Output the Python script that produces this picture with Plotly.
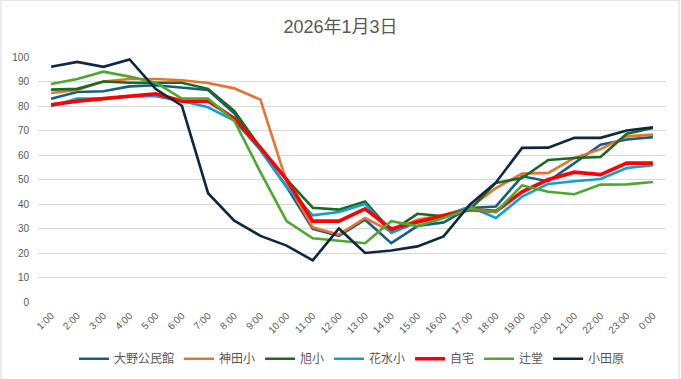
import plotly.graph_objects as go

hours = ["1:00", "2:00", "3:00", "4:00", "5:00", "6:00", "7:00", "8:00", "9:00", "10:00",
         "11:00", "12:00", "13:00", "14:00", "15:00", "16:00", "17:00", "18:00", "19:00",
         "20:00", "21:00", "22:00", "23:00", "0:00"]

oono = [83, 85.7, 86, 88, 88.5, 87.5, 86.5, 77, 62, 47, 29.8, 27, 33.6, 24, 31, 32.5,
        38.4, 39, 51.3, 49.3, 56.7, 64.2, 66.3, 67.3]
kanda = [85.3, 86.5, 90, 91, 91, 90.5, 89.4, 87.2, 82.6, 49, 30.5, 27.5, 34.3, 28.8, 33.6,
         35.6, 38.4, 46.5, 52.4, 52.7, 58.8, 62.4, 67.6, 68.3]
asahi = [86.7, 87, 90, 89.5, 89.5, 89.5, 87, 78, 63, 50, 38.5, 37.7, 41, 28.8, 36, 35,
         37.7, 48.6, 50.6, 58, 58.8, 59.2, 68.7, 71]
hanamizu = [79.9, 83, 83, 84, 84, 82, 79.5, 74, 62, 47, 35.4, 36.7, 40, 28.2, 32.5, 35,
            39, 34.3, 43, 48.2, 49.3, 50.2, 54.7, 55.8]
jitaku = [80.5, 82, 83, 84, 85, 82, 82, 75, 63, 50, 33, 33, 38, 29.8, 32.7, 35.2, 37.7,
          37, 45, 50, 53, 52, 56.7, 56.7]
tsujido = [89, 91, 94, 92, 89.5, 83, 83, 74, 53, 33, 26, 25, 24, 33, 31, 34.3, 38, 36.7,
           47.6, 45, 44, 47.9, 48, 49]
odawara = [96, 98, 96, 99, 86.9, 80.1, 44.4, 33.2, 27, 23, 17, 30, 20, 21, 22.7, 26.8,
           39.7, 48.8, 62.9, 63, 67, 67, 70, 71.3]

series_names = ["大野公民館", "神田小", "旭小", "花水小", "自宅", "辻堂", "小田原"]
series_values = [oono, kanda, asahi, hanamizu, jitaku, tsujido, odawara]
colors = ["#156082", "#E97132", "#196B24", "#0F9ED5", "#FF0000", "#4EA72E", "#0E2841"]
widths = [2.6, 2.6, 2.6, 2.6, 3.6, 2.6, 2.6]

y_ticks = [0, 10, 20, 30, 40, 50, 60, 70, 80, 90, 100]

W, H = 681, 379
ml, mr, mt, mb = 37.6, 14.6, 57.3, 76.7

fig = go.Figure()
for name, vals, c, w in zip(series_names, series_values, colors, widths):
    fig.add_trace(go.Scatter(x=hours, y=vals, mode="lines", name=name,
                             line=dict(color=c, width=w)))

font_family = "Liberation Sans, Arial, Noto Sans CJK JP, sans-serif"
pw = W - ml - mr
ph = H - mt - mb

fig.update_layout(
    width=W, height=H,
    margin=dict(l=ml, r=mr, t=mt, b=mb, pad=0, autoexpand=False),
    paper_bgcolor="white", plot_bgcolor="white",
    font=dict(family=font_family, color="#595959", size=10),
    title=dict(text="2026年1月3日", x=0.5, xanchor="center",
               y=1 - 27 / H, yref="container", yanchor="middle",
               font=dict(size=18, color="#595959", family=font_family)),
    showlegend=True,
    legend=dict(orientation="h", x=0.5, xanchor="center",
                y=(0 - (359 - (H - mb))) / ph, yanchor="middle",
                font=dict(size=12, color="#595959", family="Noto Sans CJK JP, sans-serif"),
                itemwidth=30, tracegroupgap=0, bgcolor="rgba(0,0,0,0)"),
    xaxis=dict(type="category", tickangle=-45, showgrid=False, showline=False,
               zeroline=False, ticks="", tickfont=dict(size=10, color="#595959"),
               range=[-0.5, len(hours) - 0.5], automargin=False, ticklabelstandoff=5),
    yaxis=dict(range=[0, 100], tickvals=y_ticks, showgrid=True, gridcolor="#D9D9D9",
               gridwidth=1, zeroline=False, showline=False, ticks="",
               tickfont=dict(size=10, color="#595959"), ticklabelstandoff=8,
               automargin=False),
    shapes=[dict(type="rect", xref="paper", yref="paper",
                 x0=(0.5 - ml) / pw, x1=(W - 1.5 - ml) / pw,
                 y0=(mb - (H - 1.5)) / ph, y1=(H - 0.5 - mb) / ph,
                 line=dict(color="#D9D9D9", width=1), layer="below")],
)

fig.write_html("out.html", config={"displayModeBar": False},
               post_script="document.body.style.margin='0';document.body.style.overflow='hidden';")
